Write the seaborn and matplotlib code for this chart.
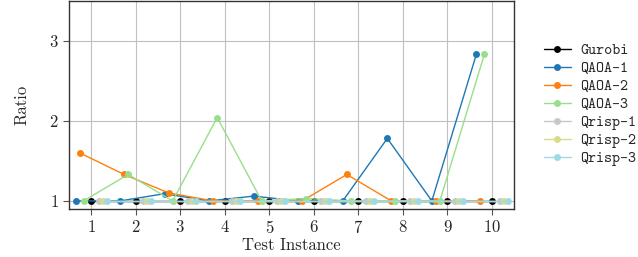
import numpy as np
import pandas as pd
import seaborn as sns
import matplotlib.pyplot as plt

instances = [1, 2, 3, 4, 5, 6, 7, 8, 9, 10]
methods = ['Gurobi', 'QAOA-1', 'QAOA-2', 'QAOA-3', 'Qrisp-1', 'Qrisp-2', 'Qrisp-3']

gurobi = [1.0, 1.0, 1.0, 1.0, 1.0, 1.0, 1.0, 1.0, 1.0, 1.0]
qaoa_1 = [1.0, 1.0, 1.09, 1.0, 1.06, 1.0, 1.0, 1.78, 1.0, 2.83]
qaoa_2 = [1.6, 1.33, 1.1, 1.0, 1.0, 1.0, 1.33, 1.0, 1.0, 1.0]
qaoa_3 = [1.0, 1.33, 1.0, 2.04, 1.0, 1.03, 1.0, 1.0, 1.0, 2.83]
qrisp_1 = [1.0, 1.0, 1.0, 1.0, 1.0, 1.0, 1.0, 1.0, 1.0, 1.0]
qrisp_2 = [1.0, 1.0, 1.0, 1.0, 1.0, 1.0, 1.0, 1.0, 1.0, 1.0]
qrisp_3 = [1.0, 1.0, 1.0, 1.0, 1.0, 1.0, 1.0, 1.0, 1.0, 1.0]

# horizontal shift of each method inside an instance slot
offsets = {'Gurobi': 0.0, 'QAOA-1': -0.35, 'QAOA-2': -0.26, 'QAOA-3': -0.17,
           'Qrisp-1': 0.17, 'Qrisp-2': 0.26, 'Qrisp-3': 0.35}
colors = {'Gurobi': 'black', 'QAOA-1': '#1f77b4', 'QAOA-2': '#ff7f0e',
          'QAOA-3': '#98df8a', 'Qrisp-1': '#c7c7c7', 'Qrisp-2': '#dbdb8d',
          'Qrisp-3': '#9edae5'}

values = [gurobi, qaoa_1, qaoa_2, qaoa_3, qrisp_1, qrisp_2, qrisp_3]
rows = []
for m, vals in zip(methods, values):
    for i, v in zip(instances, vals):
        rows.append({'method': m, 'instance': i, 'x': i + offsets[m], 'ratio': v})
df = pd.DataFrame(rows)

sns.set_style('ticks')
plt.rcParams['font.family'] = ['cmr10', 'DejaVu Serif']
plt.rcParams['axes.formatter.use_mathtext'] = True
plt.rcParams['mathtext.fontset'] = 'cm'

fig, ax = plt.subplots(figsize=(6.38, 2.57), dpi=100)
fig.subplots_adjust(left=0.108, right=0.806, top=0.998, bottom=0.187)

ax.grid(True, color='#c0c0c0', linewidth=0.8)
ax.set_axisbelow(True)

sns.lineplot(data=df, x='x', y='ratio', hue='method', hue_order=methods,
             palette=colors, marker='o', markersize=5, markeredgewidth=0,
             linewidth=1.0, ax=ax)

ax.set_xlim(0.5, 10.5)
ax.set_ylim(0.9, 3.5)
ax.set_xticks(instances)
ax.set_yticks([1, 2, 3])
ax.tick_params(labelsize=12, color='#555555', length=4, width=0.8)
ax.set_xlabel('Test Instance', fontsize=12, labelpad=1)
ax.set_ylabel('Ratio', fontsize=12, labelpad=14)
for s in ax.spines.values():
    s.set_color('#333333')
    s.set_linewidth(1.0)
    s.set_visible(True)

leg = ax.legend(loc='center left', bbox_to_anchor=(1.035, 0.5), frameon=False,
                prop={'family': 'cmtt10', 'size': 11}, handlelength=1.8,
                handletextpad=0.6, labelspacing=0.22)

fig.savefig('out.png', dpi=100)
